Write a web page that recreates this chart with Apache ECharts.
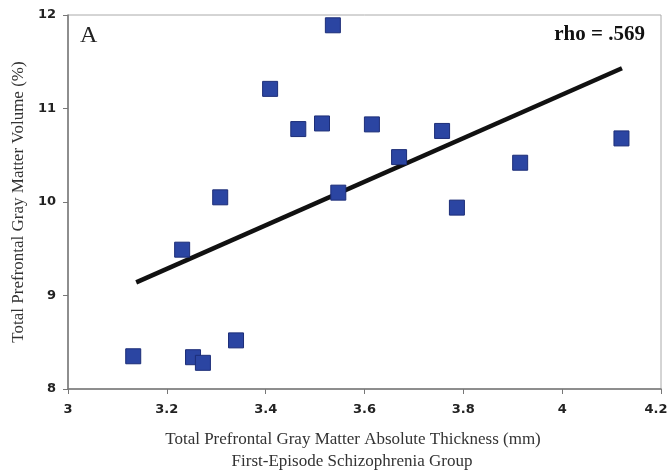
<!DOCTYPE html>
<html>
<head>
<meta charset="utf-8">
<script src="https://cdn.jsdelivr.net/npm/echarts@6/dist/echarts.min.js"></script>
<style>
	html, body { margin: 0; padding: 0; background: #fff; }
	#chart { width: 669px; height: 476px; }
</style>
</head>
<body>
<div id="chart"></div>
<script>
// 散点数据：皮层厚度 (mm) / 灰质体积 (%)
var thickness = [3.132, 3.231, 3.253, 3.273, 3.308, 3.34, 3.409, 3.466, 3.514, 3.536, 3.547, 3.615, 3.67, 3.757, 3.787, 3.915, 4.12];
var volume = [8.35, 9.49, 8.34, 8.28, 10.05, 8.52, 11.21, 10.78, 10.84, 11.89, 10.10, 10.83, 10.48, 10.76, 9.94, 10.42, 10.68];
// 回归线两端
var fitX = [3.138, 4.121];
var fitY = [9.14, 11.43];

var xTicks = [3, 3.2, 3.4, 3.6, 3.8, 4, 4.2];
var yTicks = [8, 9, 10, 11, 12];

var points = [];
for (var i = 0; i < thickness.length; i++) {
	points.push([thickness[i], volume[i]]);
}
var fitLine = [[fitX[0], fitY[0]], [fitX[1], fitY[1]]];

var myChart = echarts.init(document.getElementById('chart'));

var labelFont = {
	color : '#222',
	fontFamily : 'DejaVu Sans',
	fontWeight : 'bold',
	fontSize : 13
};

var option = {
	animation : false,
	grid : {
		left : 68,
		right : 8,
		top : 15,
		bottom : 87,
		outerBoundsMode : 'none',
		containLabel : false,
		show : true,
		borderColor : '#aaa',
		borderWidth : 1
	},
	xAxis : {
		type : 'value',
		min : xTicks[0],
		max : xTicks[xTicks.length - 1],
		interval : 0.2,
		splitLine : { show : false },
		axisLine : { lineStyle : { color : '#777', width : 1.5 } },
		axisTick : { show : true, length : 5, lineStyle : { color : '#777' } },
		axisLabel : {
			color : '#222',
			fontFamily : 'DejaVu Sans',
			fontWeight : 'bold',
			fontSize : 13,
			margin : 14,
			// 最后一个刻度稍向左移，避免被裁掉
			formatter : function(v) {
				var s = String(Math.round(v * 10) / 10);
				if (v >= xTicks[xTicks.length - 1] - 1e-9) {
					return '{last|' + s + '}';
				}
				return s;
			},
			rich : {
				last : {
					color : labelFont.color,
					fontFamily : labelFont.fontFamily,
					fontWeight : labelFont.fontWeight,
					fontSize : labelFont.fontSize,
					padding : [0, 10, 0, 0]
				}
			}
		}
	},
	yAxis : {
		type : 'value',
		min : yTicks[0],
		max : yTicks[yTicks.length - 1],
		interval : 1,
		splitLine : { show : false },
		axisLine : { show : true, lineStyle : { color : '#777', width : 1.5 } },
		axisTick : { show : true, length : 5, lineStyle : { color : '#777' } },
		axisLabel : {
			color : '#222',
			fontFamily : 'DejaVu Sans',
			fontWeight : 'bold',
			fontSize : 13,
			margin : 12
		},
		name : 'Total Prefrontal Gray Matter Volume (%)',
		nameLocation : 'middle',
		nameGap : 41,
		nameTextStyle : {
			color : '#333',
			fontFamily : 'Liberation Serif',
			fontSize : 17
		}
	},
	graphic : [
		{
			type : 'text',
			left : 80,
			top : 24,
			style : { text : 'A', fontFamily : 'Liberation Serif', fontSize : 24, fill : '#222' }
		},
		{
			type : 'text',
			right : 24,
			top : 24,
			style : { text : 'rho = .569', fontFamily : 'Liberation Serif', fontWeight : 'bold', fontSize : 21, fill : '#111' }
		},
		{
			type : 'text',
			x : 353,
			y : 440,
			style : {
				text : 'Total Prefrontal Gray Matter Absolute Thickness (mm)',
				fontFamily : 'Liberation Serif', fontSize : 17, fill : '#333',
				align : 'center', verticalAlign : 'middle'
			}
		},
		{
			type : 'text',
			x : 352,
			y : 462,
			style : {
				text : 'First-Episode Schizophrenia Group',
				fontFamily : 'Liberation Serif', fontSize : 17, fill : '#333',
				align : 'center', verticalAlign : 'middle'
			}
		}
	],
	series : [
		{
			type : 'line',
			data : fitLine,
			symbol : 'none',
			lineStyle : { color : '#111', width : 4.5 },
			z : 2
		},
		{
			type : 'scatter',
			data : points,
			symbol : 'rect',
			symbolSize : 15,
			itemStyle : {
				color : '#2b45a2',
				borderColor : '#1d2e78',
				borderWidth : 1,
				opacity : 1
			},
			z : 3
		}
	]
};
myChart.setOption(option);
</script>
</body>
</html>
